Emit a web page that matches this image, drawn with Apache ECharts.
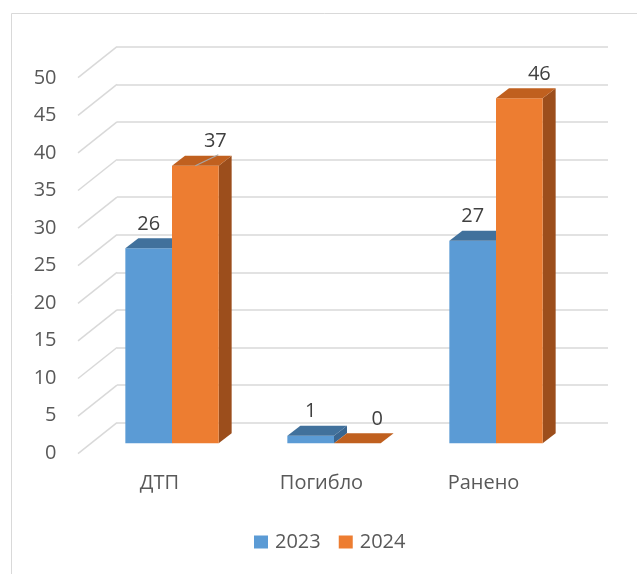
<!DOCTYPE html>
<html>
<head>
<meta charset="utf-8">
<script src="https://cdn.jsdelivr.net/npm/echarts@6/dist/echarts.min.js"></script>
<style>
html,body{margin:0;padding:0;background:#fff;}
#chart{width:637px;height:574px;}
</style>
</head>
<body>
<div id="chart"></div>
<script>
// ---- data ----
const categories = ['ДТП', 'Погибло', 'Ранено'];
const seriesNames = ['2023', '2024'];
const values2023 = [26, 1, 27];
const values2024 = [37, 0, 46];
const yTicks = [0, 5, 10, 15, 20, 25, 30, 35, 40, 45, 50];

// ---- style constants ----
const FONT = '"Open Sans", "Liberation Sans", sans-serif';
const TXT = '#595959';
const GRID = '#D9D9D9';
const DEPTH_DX = 13, DEPTH_DY = 10;      // bar depth
const WALL_DX = -39, WALL_DY = 31;       // back wall -> front edge
const BAR_RATIO = 0.288;
const palette = [
  {front: '#5B9BD5', top: '#41719C', side: '#3A6690'},
  {front: '#ED7D31', top: '#C0601F', side: '#9C4E1C'}
];
const labelShift = [0, 20];
const leaderLine = [[false, false, false], [true, false, false]];

function barRenderer(si) {
  return function (params, api) {
    const cat = api.value(0), val = api.value(1);
    const base = api.coord([cat, 0]);
    const top = api.coord([cat, val]);
    const band = api.size([1, 0])[0];
    const w = band * BAR_RATIO;
    const x0 = si === 0 ? base[0] - w : base[0];
    const x1 = x0 + w;
    const yT = top[1], yB = base[1];
    const c = palette[si];
    const children = [
      {type: 'polygon', shape: {points: [[x1, yT], [x1 + DEPTH_DX, yT - DEPTH_DY], [x1 + DEPTH_DX, yB - DEPTH_DY], [x1, yB]]}, style: {fill: c.side}},
      {type: 'rect', shape: {x: x0, y: yT, width: w, height: Math.max(yB - yT, 0)}, style: {fill: c.front}},
      {type: 'polygon', shape: {points: [[x0, yT], [x1, yT], [x1 + DEPTH_DX, yT - DEPTH_DY], [x0 + DEPTH_DX, yT - DEPTH_DY]]}, style: {fill: c.top}},
      {type: 'text', style: {text: String(val), x: (x0 + x1) / 2 + labelShift[si], y: yT - 24.5, textAlign: 'center', textVerticalAlign: 'middle', font: '20px ' + FONT, fill: '#404040'}}
    ];
    if (leaderLine[si][params.dataIndex]) {
      const cx = (x0 + x1) / 2;
      children.push({type: 'line', shape: {x1: cx, y1: yT, x2: cx + 23, y2: yT - 11}, style: {stroke: '#A6A6A6', lineWidth: 1.2}});
    }
    return {type: 'group', children: children};
  };
}

const chart = echarts.init(document.getElementById('chart'), null, {renderer: 'canvas'});
const option = {
  animation: false,
  backgroundColor: '#fff',
  graphic: [{type: 'rect', left: 9, top: 11, z: -10, shape: {width: 700, height: 700}, style: {fill: 'none', stroke: '#D9D9D9', lineWidth: 1}}],
  legend: {
    data: seriesNames, left: 249, top: 527, itemWidth: 14, itemHeight: 13, itemGap: 18,
    icon: 'rect',
    textStyle: {fontFamily: FONT, fontSize: 20, color: TXT, padding: [0, 0, 0, 2]}
  },
  grid: [
    {left: 78.5, top: 78, width: 486, height: 375},   // front edge (labels)
    {left: 117, top: 46.7, width: 491, height: 376},  // back wall
    {left: 91, top: 68.3, width: 486, height: 375}    // bar front plane
  ],
  xAxis: [
    {gridIndex: 0, type: 'category', data: categories, axisLine: {show: false}, axisTick: {show: false},
     axisLabel: {margin: 20, fontFamily: FONT, fontSize: 20, color: TXT}},
    {gridIndex: 1, type: 'value', min: 0, max: 1, show: false},
    {gridIndex: 2, type: 'category', data: categories, show: false}
  ],
  yAxis: [
    {gridIndex: 0, type: 'value', min: 0, max: 50, interval: 5, axisLine: {show: false}, axisTick: {show: false}, splitLine: {show: false},
     axisLabel: {margin: 22, fontFamily: FONT, fontSize: 20, color: TXT}},
    {gridIndex: 1, type: 'value', min: 0, max: 50, interval: 5, axisLine: {show: false}, axisTick: {show: false}, axisLabel: {show: false},
     splitLine: {show: true, lineStyle: {color: GRID, width: 1.5}}},
    {gridIndex: 2, type: 'value', min: 0, max: 50, interval: 5, show: false, splitLine: {show: false}}
  ],
  series: [
    {
      type: 'custom', name: 'walls', xAxisIndex: 1, yAxisIndex: 1, silent: true,
      data: yTicks.map(v => [0, v]),
      renderItem: function (params, api) {
        const p = api.coord([0, api.value(1)]);
        return {type: 'line', shape: {x1: p[0], y1: p[1], x2: p[0] + WALL_DX, y2: p[1] + WALL_DY}, style: {stroke: GRID, lineWidth: 1.5}};
      }
    },
    {
      type: 'custom', name: seriesNames[0], xAxisIndex: 2, yAxisIndex: 2,
      itemStyle: {color: palette[0].front},
      data: values2023.map((v, i) => [i, v]),
      renderItem: barRenderer(0)
    },
    {
      type: 'custom', name: seriesNames[1], xAxisIndex: 2, yAxisIndex: 2,
      itemStyle: {color: palette[1].front},
      data: values2024.map((v, i) => [i, v]),
      renderItem: barRenderer(1)
    }
  ]
};
chart.setOption(option);
</script>
</body>
</html>
